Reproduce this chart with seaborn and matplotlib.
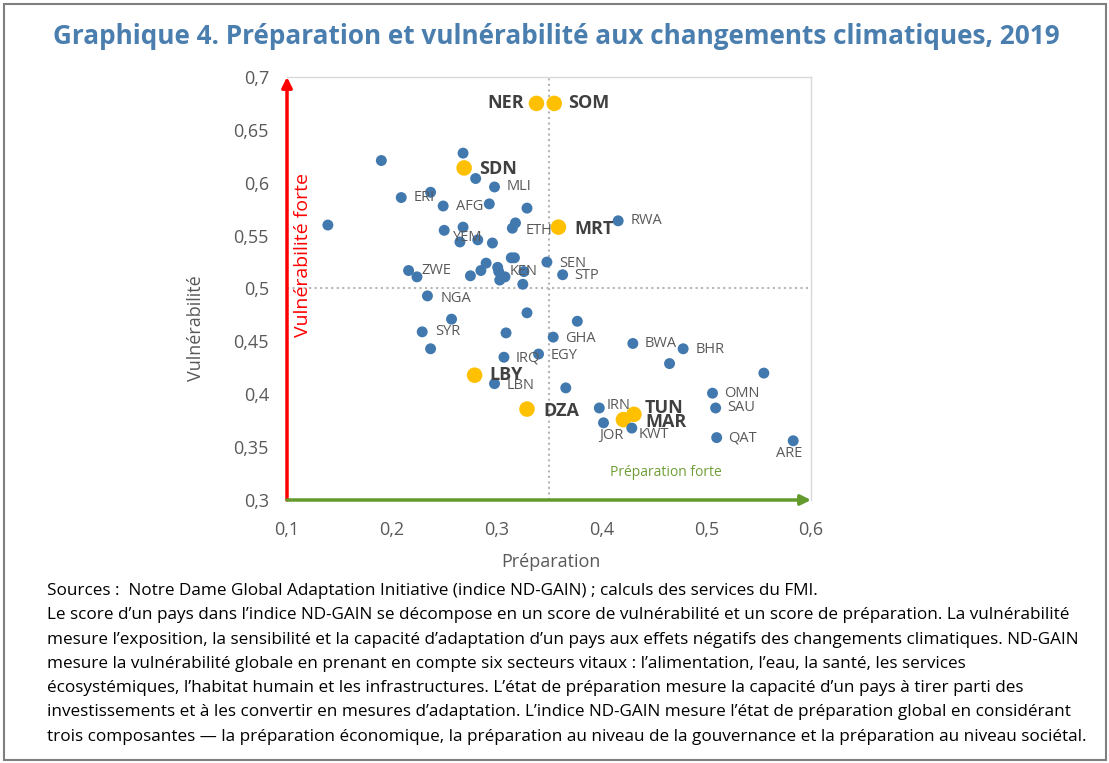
import pandas as pd
import matplotlib.pyplot as plt
import seaborn as sns
from matplotlib.patches import Rectangle

# Data
pays = [
    "NER", "SOM", "SDN", "MRT", "LBY", "DZA", "TUN", "MAR",
    "", "", "", "MLI", "", "ERI", "", "AFG", "", "", "", "ETH", "", "YEM",
    "", "", "", "SEN", "", "", "", "", "", "KEN", "", "", "", "", "", "ZWE",
    "", "STP", "NGA", "", "", "", "SYR", "", "GHA", "", "IRQ", "EGY", "LBN",
    "", "RWA", "BWA", "BHR", "", "", "OMN", "SAU", "IRN", "JOR", "KWT", "QAT", "ARE",
]
preparation = [
    0.338, 0.355, 0.269, 0.359, 0.279, 0.329, 0.431, 0.421,
    0.268, 0.190, 0.280, 0.298, 0.237, 0.209, 0.293, 0.249, 0.329, 0.139, 0.318, 0.315, 0.268, 0.250,
    0.265, 0.282, 0.296, 0.348, 0.314, 0.317, 0.290, 0.285, 0.301, 0.302, 0.303, 0.308, 0.326, 0.325, 0.275, 0.216,
    0.224, 0.363, 0.234, 0.257, 0.329, 0.377, 0.229, 0.309, 0.354, 0.237, 0.307, 0.340, 0.298,
    0.366, 0.416, 0.430, 0.478, 0.465, 0.555, 0.506, 0.509, 0.398, 0.402, 0.429, 0.510, 0.583,
]
vulnerabilite = [
    0.675, 0.675, 0.614, 0.558, 0.418, 0.386, 0.381, 0.376,
    0.628, 0.621, 0.604, 0.596, 0.591, 0.586, 0.580, 0.578, 0.576, 0.560, 0.562, 0.557, 0.558, 0.555,
    0.544, 0.546, 0.543, 0.525, 0.529, 0.529, 0.524, 0.517, 0.520, 0.516, 0.508, 0.511, 0.516, 0.504, 0.512, 0.517,
    0.511, 0.513, 0.493, 0.471, 0.477, 0.469, 0.459, 0.458, 0.454, 0.443, 0.435, 0.438, 0.410,
    0.406, 0.564, 0.448, 0.443, 0.429, 0.420, 0.401, 0.387, 0.387, 0.373, 0.368, 0.359, 0.356,
]
focus = ["NER", "SOM", "SDN", "MRT", "LBY", "DZA", "TUN", "MAR"]

df = pd.DataFrame({"pays": pays, "prep": preparation, "vuln": vulnerabilite})
df["groupe"] = ["MENA" if p in focus else "Autres" for p in df["pays"]]

# label offsets in pixels (dx, dy, ha, va)
offsets = {
    "ERI": (12, 0, "left", "center"), "AFG": (13, 0, "left", "center"),
    "MLI": (12, 0, "left", "center"), "ETH": (13, -2, "left", "center"),
    "YEM": (9, -7, "left", "center"), "ZWE": (13, 0, "left", "center"),
    "KEN": (11, 0, "left", "center"), "NGA": (13, -3, "left", "center"),
    "SYR": (13, 0, "left", "center"), "IRQ": (12, -1, "left", "center"),
    "EGY": (12, -1, "left", "center"), "LBN": (12, -2, "left", "center"),
    "GHA": (12, -1, "left", "center"), "SEN": (12, -1, "left", "center"),
    "STP": (12, -1, "left", "center"), "RWA": (12, 0, "left", "center"),
    "BWA": (12, 0, "left", "center"), "BHR": (12, -1, "left", "center"),
    "OMN": (12, 0, "left", "center"), "SAU": (12, 0, "left", "center"),
    "QAT": (11, 0, "left", "center"), "ARE": (-4, -5, "center", "top"),
    "IRN": (7, 2, "left", "center"), "JOR": (-4, -5, "left", "top"),
    "KWT": (7, -6, "left", "center"),
    "NER": (-12, 0, "right", "center"), "SOM": (14, 0, "left", "center"),
    "SDN": (15, -1, "left", "center"), "MRT": (16, -2, "left", "center"),
    "LBY": (15, 0, "left", "center"), "DZA": (16, -2, "left", "center"),
    "TUN": (11, 6, "left", "center"), "MAR": (22, -2, "left", "center"),
}

sns.set_style("white")
plt.rcParams["font.family"] = ["Open Sans", "DejaVu Sans"]

BLUE = "#4178ad"
YELLOW = "#ffc000"
GREY = "#595959"
GREEN = "#639a2b"

fig = plt.figure(figsize=(11.09, 7.63), dpi=100)
ax = fig.add_axes([0.2588, 0.3447, 0.4725, 0.5544])

ax.axvline(0.35, color="#b5b5b5", ls=":", lw=1.5, zorder=0)
ax.axhline(0.5, color="#b5b5b5", ls=":", lw=1.5, zorder=0)

sns.scatterplot(data=df, x="prep", y="vuln", hue="groupe", size="groupe",
                palette={"Autres": BLUE, "MENA": YELLOW},
                sizes={"Autres": 62, "MENA": 125},
                linewidth=0, legend=False, ax=ax, zorder=3)

for _, r in df.iterrows():
    if r["pays"] == "":
        continue
    dx, dy, ha, va = offsets[r["pays"]]
    bold = r["pays"] in focus
    ax.annotate(r["pays"], (r["prep"], r["vuln"]), xytext=(dx, dy),
                textcoords="offset pixels", ha=ha, va=va,
                fontsize=13 if bold else 10.5,
                fontweight="bold" if bold else "normal",
                color="#404040" if bold else GREY, zorder=4)

ax.set_xlim(0.1, 0.6)
ax.set_ylim(0.3, 0.7)
ax.set_xticks([0.1, 0.2, 0.3, 0.4, 0.5, 0.6])
ax.set_yticks([0.3, 0.35, 0.4, 0.45, 0.5, 0.55, 0.6, 0.65, 0.7])
ax.set_xticklabels(["0,1", "0,2", "0,3", "0,4", "0,5", "0,6"])
ax.set_yticklabels(["0,3", "0,35", "0,4", "0,45", "0,5", "0,55", "0,6", "0,65", "0,7"])
ax.tick_params(axis="both", length=0, labelsize=13, labelcolor=GREY)
ax.tick_params(axis="x", pad=15)
ax.tick_params(axis="y", pad=13)

ax.set_xlabel("Préparation", fontsize=13, color=GREY)
ax.set_ylabel("Vulnérabilité", fontsize=13, color=GREY)
ax.xaxis.set_label_coords(0.504, -0.125)
ax.yaxis.set_label_coords(-0.157, 0.407)

for s in ["top", "right"]:
    ax.spines[s].set_color("#d9d9d9")
    ax.spines[s].set_linewidth(1)
for s in ["left", "bottom"]:
    ax.spines[s].set_visible(False)

# axis arrows
ax.annotate("", xy=(0, 1.0), xytext=(0, 0), xycoords="axes fraction",
            arrowprops=dict(arrowstyle="-|>,head_length=0.6,head_width=0.3",
                            color="#ff0000", lw=2.5, shrinkA=0, shrinkB=0),
            annotation_clip=False)
ax.annotate("", xy=(1.0, 0), xytext=(0, 0), xycoords="axes fraction",
            arrowprops=dict(arrowstyle="-|>,head_length=0.6,head_width=0.3",
                            color=GREEN, lw=2.5, shrinkA=0, shrinkB=0),
            annotation_clip=False)

ax.text(0.031, 0.579, "Vulnérabilité forte", transform=ax.transAxes, rotation=90,
        ha="center", va="center", fontsize=14, color="#ff0000")
ax.text(0.723, 0.066, "Préparation forte", transform=ax.transAxes,
        ha="center", va="center", fontsize=10, color="#6e9e35")

fig.text(0.5014, 1 - 44 / 763, "Graphique 4. Préparation et vulnérabilité aux changements climatiques, 2019",
         ha="center", va="baseline", fontsize=18.8, fontweight="bold", color="#4a7eaf")

note_lines = [
    "Sources :  Notre Dame Global Adaptation Initiative (indice ND-GAIN) ; calculs des services du FMI.",
    "Le score d’un pays dans l’indice ND-GAIN se décompose en un score de vulnérabilité et un score de préparation. La vulnérabilité",
    "mesure l’exposition, la sensibilité et la capacité d’adaptation d’un pays aux effets négatifs des changements climatiques. ND-GAIN",
    "mesure la vulnérabilité globale en prenant en compte six secteurs vitaux : l’alimentation, l’eau, la santé, les services",
    "écosystémiques, l’habitat humain et les infrastructures. L’état de préparation mesure la capacité d’un pays à tirer parti des",
    "investissements et à les convertir en mesures d’adaptation. L’indice ND-GAIN mesure l’état de préparation global en considérant",
    "trois composantes — la préparation économique, la préparation au niveau de la gouvernance et la préparation au niveau sociétal.",
]
for i, line in enumerate(note_lines):
    fig.text(0.0424, 1 - (595 + i * 24.3) / 763, line, ha="left", va="baseline",
             fontsize=12.3, color="#000000")

# outer frame
fig.patches.append(Rectangle((3.5 / 1109, 3 / 763), 1102 / 1109, 756 / 763,
                             transform=fig.transFigure, fill=False,
                             edgecolor="#7f7f7f", lw=1.5))

plt.savefig("out.png", dpi=100)
